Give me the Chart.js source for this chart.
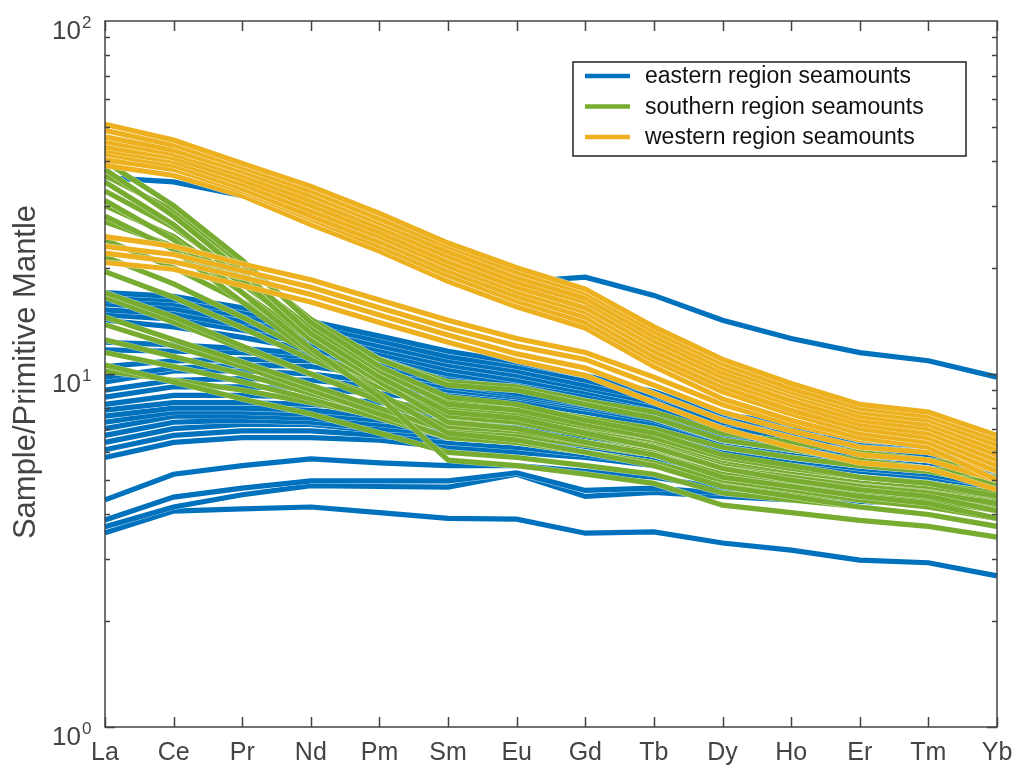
<!DOCTYPE html>
<html>
<head>
<meta charset="utf-8">
<title>Primitive-mantle normalised REE patterns</title>
<script src="https://cdn.jsdelivr.net/npm/chart.js@4/dist/chart.umd.min.js"></script>
<style>
  html, body { margin: 0; padding: 0; background: #fff; }
  #wrap { width: 1016px; height: 773px; position: relative; }
</style>
</head>
<body>
<div id="wrap"><canvas id="ree" width="1016" height="773"></canvas></div>
<script>
// Rare earth elements along the x axis
const elements = ['La', 'Ce', 'Pr', 'Nd', 'Pm', 'Sm', 'Eu', 'Gd', 'Tb', 'Dy', 'Ho', 'Er', 'Tm', 'Yb'];

// Decades labelled on the log axis
const yTicks = [1, 10, 100];

// Sample / primitive mantle, one row per sample
const eastern = [
  [36, 35, 32, 29, 25.5, 22, 18.2, 18.8, 16.7, 14.2, 12.6, 11.5, 10.9, 9.8],
  [17, 16.6, 15.4, 14.1, 12.8, 11.6, 10.8, 9.9, 8.9, 7.7, 7.2, 6.9, 6.6, 6.2],
  [16.6, 16.2, 15.0, 13.7, 12.4, 11.2, 10.5, 9.6, 8.7, 7.5, 7.0, 6.7, 6.4, 6.0],
  [16.2, 15.8, 14.6, 13.3, 12.0, 10.9, 10.2, 9.3, 8.5, 7.3, 6.8, 6.5, 6.2, 5.8],
  [15.8, 15.3, 14.1, 12.9, 11.7, 10.6, 9.9, 9.1, 8.3, 7.1, 6.6, 6.3, 6.0, 5.6],
  [15.2, 14.8, 13.7, 12.5, 11.4, 10.3, 9.6, 8.9, 8.1, 7.0, 6.5, 6.2, 5.9, 5.5],
  [14.7, 14.3, 13.3, 12.1, 11.0, 10.0, 9.4, 8.7, 7.9, 6.8, 6.3, 6.0, 5.8, 5.4],
  [14.2, 13.6, 12.7, 11.7, 10.7, 9.8, 9.2, 8.5, 7.7, 6.7, 6.2, 5.9, 5.7, 5.3],
  [12.3, 12.1, 11.8, 11.4, 10.7, 9.9, 9.3, 8.6, 8.0, 6.9, 6.4, 6.1, 5.8, 5.4],
  [11.7, 11.6, 11.5, 11.2, 10.4, 9.6, 9.0, 8.3, 7.7, 6.7, 6.3, 5.9, 5.7, 5.3],
  [10.5, 10.9, 11.0, 10.9, 10.2, 9.4, 8.8, 8.2, 7.6, 6.6, 6.2, 5.9, 5.6, 5.2],
  [9.8, 10.4, 10.6, 10.5, 9.9, 9.2, 8.7, 8.1, 7.5, 6.5, 6.1, 5.8, 5.5, 5.1],
  [9.5, 10.2, 10.2, 10.0, 9.5, 9.0, 8.6, 8.0, 7.4, 6.5, 6.1, 5.8, 5.5, 5.1],
  [9.0, 9.6, 9.7, 9.6, 9.2, 8.7, 8.3, 7.8, 7.2, 6.4, 6.0, 5.7, 5.4, 5.0],
  [8.6, 9.2, 9.2, 9.1, 8.8, 8.4, 8.0, 7.5, 7.0, 6.2, 5.8, 5.5, 5.3, 4.9],
  [8.2, 8.7, 8.7, 8.6, 8.3, 8.0, 7.7, 7.2, 6.8, 6.0, 5.7, 5.4, 5.2, 4.8],
  [7.9, 8.3, 8.3, 8.2, 7.9, 7.6, 7.4, 7.0, 6.6, 5.9, 5.6, 5.3, 5.1, 4.7],
  [7.6, 8.0, 8.0, 7.9, 7.6, 7.3, 7.1, 6.8, 6.4, 5.7, 5.4, 5.2, 5.0, 4.6],
  [7.3, 7.8, 7.8, 7.7, 7.4, 7.1, 6.9, 6.6, 6.2, 5.6, 5.3, 5.1, 4.9, 4.5],
  [7.0, 7.6, 7.6, 7.5, 7.2, 6.9, 6.7, 6.4, 6.0, 5.4, 5.2, 5.0, 4.8, 4.5],
  [6.7, 7.3, 7.4, 7.3, 7.0, 6.8, 6.6, 6.3, 5.9, 5.3, 5.1, 4.9, 4.7, 4.4],
  [6.4, 7.0, 7.2, 7.2, 6.9, 6.6, 6.4, 6.1, 5.8, 5.2, 5.0, 4.8, 4.6, 4.3],
  [6.1, 6.7, 6.9, 6.9, 6.7, 6.4, 6.2, 5.9, 5.6, 5.1, 4.9, 4.7, 4.5, 4.2],
  [5.8, 6.4, 6.6, 6.6, 6.5, 6.2, 6.0, 5.8, 5.5, 5.0, 4.8, 4.6, 4.4, 4.1],
  [4.4, 5.2, 5.5, 5.75, 5.6, 5.5, 5.5, 5.3, 5.1, 4.75, 4.6, 4.45, 4.35, 4.2],
  [3.86, 4.48, 4.75, 4.98, 4.98, 4.98, 5.25, 4.68, 4.75, 4.6, 4.5, 4.45, 4.45, 4.55],
  [3.69, 4.2, 4.55, 4.83, 4.8, 4.78, 5.2, 4.5, 4.62, 4.5, 4.4, 4.35, 4.3, 4.45],
  [3.55, 4.09, 4.15, 4.2, 4.05, 3.9, 3.88, 3.54, 3.57, 3.32, 3.17, 2.97, 2.92, 2.68]
];

const southern = [
  [40, 30, 21, 14, 10.5, 8.6, 8.2, 7.4, 6.8, 5.9, 5.5, 5.1, 4.9, 4.5],
  [38, 28, 19.5, 13, 9.8, 7.8, 7.5, 6.8, 6.2, 5.4, 5.0, 4.7, 4.5, 4.1],
  [36.5, 29, 20.5, 14.3, 11, 9.3, 9.0, 8.2, 7.5, 6.5, 6.1, 5.7, 5.4, 5.1],
  [35, 26.5, 18.5, 12.5, 9.5, 7.3, 7.0, 6.4, 5.9, 5.1, 4.8, 4.5, 4.3, 3.9],
  [33, 26, 19, 13.5, 10.2, 8.2, 7.9, 7.2, 6.6, 5.8, 5.4, 5.1, 4.9, 4.6],
  [31, 24, 17, 11.8, 8.6, 5.7, 5.5, 5.2, 4.9, 4.25, 4.05, 3.85, 3.7, 3.45],
  [30, 24.5, 18, 13, 10, 8.4, 8.1, 7.5, 7.0, 6.2, 5.8, 5.5, 5.3, 4.9],
  [28, 22.5, 16, 11.5, 8.8, 6.8, 6.5, 6.0, 5.5, 4.8, 4.5, 4.2, 4.0, 3.7],
  [27, 23, 17, 12.5, 9.5, 7.6, 7.3, 6.7, 6.2, 5.4, 5.1, 4.8, 4.6, 4.3],
  [24, 20, 16, 13, 11, 9.5, 9.2, 8.4, 7.8, 6.8, 6.4, 6.0, 5.7, 5.4],
  [21.5, 18, 14.5, 11.5, 9.5, 8.0, 7.7, 7.1, 6.6, 5.8, 5.4, 5.1, 4.9, 4.6],
  [19.5, 16.5, 13.5, 11, 9.2, 7.9, 7.6, 7.0, 6.5, 5.7, 5.3, 5.0, 4.8, 4.5],
  [17, 14.5, 12, 10, 8.4, 7.1, 6.9, 6.4, 5.9, 5.2, 4.9, 4.6, 4.4, 4.1],
  [16.5, 14, 11.8, 10, 8.6, 7.5, 7.3, 6.8, 6.3, 5.5, 5.2, 4.9, 4.7, 4.4],
  [14.5, 12.5, 10.8, 9.3, 8.0, 6.9, 6.7, 6.3, 5.9, 5.2, 4.9, 4.6, 4.4, 4.1],
  [13.8, 12, 10.5, 9.0, 7.7, 6.6, 6.4, 6.0, 5.6, 5.0, 4.7, 4.4, 4.2, 3.9],
  [12.5, 11.2, 10, 8.8, 7.8, 7.0, 6.8, 6.4, 6.0, 5.3, 5.0, 4.7, 4.5, 4.2],
  [11.5, 10.5, 9.5, 8.5, 7.5, 6.6, 6.4, 6.0, 5.6, 4.9, 4.6, 4.4, 4.2, 3.9],
  [10.6, 9.5, 8.5, 7.7, 6.8, 6.0, 5.8, 5.5, 5.2, 4.6, 4.4, 4.2, 4.0, 3.7],
  [10.2, 9.6, 9.0, 8.3, 7.6, 7.0, 6.8, 6.4, 6.0, 5.3, 5.0, 4.8, 4.6, 4.3]
];

const western = [
  [51, 46, 39.5, 34, 28.5, 23.5, 20, 17.4, 13.6, 11, 9.4, 8.2, 7.8, 6.7],
  [49, 44.5, 38.5, 33, 27.5, 23, 19.4, 17, 13.2, 10.7, 9.1, 8.0, 7.6, 6.5],
  [47, 43, 37.5, 32, 26.8, 22.2, 18.8, 16.4, 12.8, 10.4, 8.9, 7.8, 7.4, 6.3],
  [45.5, 42, 36.5, 31, 26, 21.5, 18.2, 16, 12.4, 10.1, 8.7, 7.6, 7.2, 6.1],
  [44, 41, 35.5, 30, 25.2, 20.8, 17.6, 15.4, 12, 9.8, 8.4, 7.4, 7.0, 5.9],
  [43, 40, 34.5, 29, 24.5, 20.2, 17.1, 15, 11.6, 9.5, 8.2, 7.2, 6.8, 5.7],
  [42, 39, 33.5, 28, 23.7, 19.6, 16.6, 14.5, 11.2, 9.2, 7.9, 7.0, 6.6, 5.5],
  [40.5, 38, 33, 27.5, 23, 19, 16.1, 14, 10.9, 8.9, 7.7, 6.8, 6.4, 5.3],
  [39, 36.5, 32, 26.5, 22.3, 18.3, 15.5, 13.5, 10.5, 8.5, 7.4, 6.6, 6.2, 5.0],
  [24.5, 23, 20.5, 18.5, 16.2, 14.2, 12.6, 11.5, 9.8, 8.2, 7.2, 6.5, 6.3, 5.6],
  [23, 21.8, 19.6, 17.6, 15.4, 13.5, 12, 11, 9.3, 7.8, 6.9, 6.2, 6.0, 5.3],
  [22, 20.8, 18.8, 16.8, 14.7, 12.9, 11.4, 10.4, 8.8, 7.4, 6.6, 5.9, 5.7, 5.0],
  [20.7, 19.8, 17.8, 16, 14, 12.3, 10.9, 9.9, 8.3, 7.0, 6.2, 5.6, 5.4, 4.7]
];

// Regions in legend order, each with its line colour
const regions = [
  { name: 'eastern region seamounts', color: '#0072BD', rows: eastern },
  { name: 'southern region seamounts', color: '#77AC30', rows: southern },
  { name: 'western region seamounts', color: '#EDB120', rows: western }
];

const AXIS = '#444444';
const FONT = '"Liberation Sans", Arial, Helvetica, sans-serif';

// Chart.js paints dataset 0 last, so the western lines go first to sit on top.
// Every line gets a slightly wider, half-transparent white twin painted just
// before it, which leaves a faint seam where lines overlap.
const datasets = [];
[...regions].reverse().forEach(region => {
  region.rows.forEach(row => {
    datasets.push({ label: region.name, data: row, borderColor: region.color, borderWidth: 5.2 });
    datasets.push({ label: '', data: row, borderColor: 'rgba(255,255,255,0.7)', borderWidth: 6.0 });
  });
});

// Axes box, inward ticks, tick labels, axis title and the boxed legend
const frame = {
  id: 'frame',
  afterDraw(chart) {
    const { ctx, chartArea: a, scales: { x, y } } = chart;
    ctx.save();

    ctx.strokeStyle = AXIS;
    ctx.lineWidth = 1.5;
    ctx.strokeRect(a.left, a.top, a.right - a.left, a.bottom - a.top);

    ctx.beginPath();
    elements.forEach((el, i) => {
      const px = Math.round(x.getPixelForValue(i)) + 0.5;
      ctx.moveTo(px, a.bottom); ctx.lineTo(px, a.bottom - 10);
      ctx.moveTo(px, a.top); ctx.lineTo(px, a.top + 10);
    });
    const lo = Math.log10(yTicks[0]), hi = Math.log10(yTicks[yTicks.length - 1]);
    for (let d = lo; d < hi; d++) {
      for (let m = 1; m <= 9; m++) {
        const py = Math.round(y.getPixelForValue(m * Math.pow(10, d))) + 0.5;
        const len = m === 1 ? 10 : 5;
        ctx.moveTo(a.left, py); ctx.lineTo(a.left + len, py);
        ctx.moveTo(a.right, py); ctx.lineTo(a.right - len, py);
      }
    }
    ctx.stroke();

    // Category labels
    ctx.fillStyle = AXIS;
    ctx.font = '25px ' + FONT;
    ctx.textAlign = 'center';
    ctx.textBaseline = 'alphabetic';
    elements.forEach((el, i) => ctx.fillText(el, x.getPixelForValue(i), 760));

    // Powers of ten on the log axis
    yTicks.forEach(v => {
      const py = y.getPixelForValue(v);
      const exp = String(Math.round(Math.log10(v)));
      ctx.font = '26px ' + FONT;
      ctx.textAlign = 'right';
      ctx.fillText('10', 81, py + 18);
      ctx.font = '17px ' + FONT;
      ctx.textAlign = 'left';
      ctx.fillText(exp, 82, py + 7);
    });

    // Axis title
    ctx.save();
    ctx.translate(35, 372);
    ctx.rotate(-Math.PI / 2);
    ctx.font = '31px ' + FONT;
    ctx.textAlign = 'center';
    ctx.fillText('Sample/Primitive Mantle', 0, 0);
    ctx.restore();

    // Legend
    const box = { x: 573, y: 62, w: 393, h: 94 };
    ctx.fillStyle = '#ffffff';
    ctx.fillRect(box.x, box.y, box.w, box.h);
    ctx.strokeStyle = '#222222';
    ctx.lineWidth = 1.5;
    ctx.strokeRect(box.x, box.y, box.w, box.h);
    ctx.font = '23px ' + FONT;
    ctx.textAlign = 'left';
    ctx.textBaseline = 'middle';
    regions.forEach((region, i) => {
      const ry = 76 + i * 30.5;
      ctx.strokeStyle = region.color;
      ctx.lineWidth = 4.5;
      ctx.beginPath();
      ctx.moveTo(585, ry); ctx.lineTo(630, ry);
      ctx.stroke();
      ctx.fillStyle = '#111111';
      ctx.fillText(region.name, 645, ry + 1);
    });

    ctx.restore();
  }
};

new Chart(document.getElementById('ree'), {
  type: 'line',
  data: { labels: elements, datasets },
  options: {
    responsive: false,
    animation: false,
    devicePixelRatio: 1,
    layout: { padding: { left: 105, right: 19, top: 21, bottom: 46 } },
    elements: {
      point: { radius: 0, hoverRadius: 0 },
      line: { tension: 0, borderCapStyle: 'butt', borderJoinStyle: 'miter', fill: false }
    },
    plugins: { legend: { display: false }, tooltip: { enabled: false } },
    events: [],
    scales: {
      x: { type: 'category', display: false, offset: false },
      y: { type: 'logarithmic', min: 1, max: 100, display: false }
    }
  },
  plugins: [frame]
});
</script>
</body>
</html>
